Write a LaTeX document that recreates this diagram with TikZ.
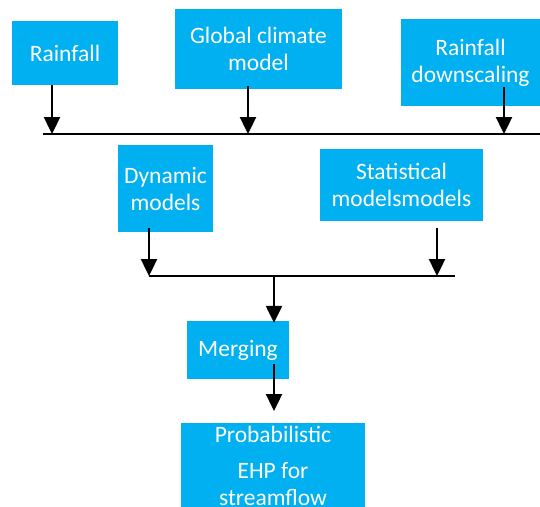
\documentclass[tikz,border=0pt]{standalone}
\usepackage{fontspec}
\setmainfont{Carlito}
\usetikzlibrary{arrows.meta}
\definecolor{skyblue}{HTML}{00B0F0}
\begin{document}
\begin{tikzpicture}[x=1pt, y=-1pt,
    box/.style={fill=skyblue, text=white, inner sep=0pt, align=center,
                font=\fontsize{23.5}{27}\selectfont},
    arr/.style={line width=2.4pt, -{Triangle[width=16pt,length=17pt]}},
    bus/.style={line width=1.8pt}]
  \clip (0,0) rectangle (540,506);

  % first row
  \node[box, minimum width=106, minimum height=64] (rain) at (65,53) {Rainfall};
  \node[box, minimum width=167, minimum height=80] (gcm) at (258.5,49) {Global climate\\model};
  \node[box, minimum width=139, minimum height=87] (down) at (470.5,62.5) {Rainfall\\downscaling};

  % second row
  \node[box, minimum width=95, minimum height=87] (dyn) at (165.5,188.5) {Dynamic\\models};
  \node[box, minimum width=163, minimum height=72] (stat) at (401.5,185) {Statistical\\modelsmodels};

  \node[box, minimum width=102, minimum height=58] (merge) at (238,350) {Merging};
  \node[box, minimum width=184, anchor=north, inner ysep=3pt] (prob) at (273,423)
    {Probabilistic\\[9pt]EHP for\\streamflow\rule[-20pt]{0pt}{20pt}};

  % bus lines
  \coordinate (b1) at (52,134);
  \coordinate (b2) at (248,134);
  \coordinate (b3) at (504,134);
  \coordinate (c1) at (149,276);
  \coordinate (c2) at (437,276);
  \coordinate (c3) at (274,276);
  \draw[bus] (43,134) -- (540,134);
  \draw[bus] (c1) -- (455,276);

  \draw[arr] (b1 |- rain.south) -- (b1);
  \draw[arr] ([yshift=3]b2 |- gcm.south) -- (b2);
  \draw[arr] ([yshift=19]b3 |- down.south) -- (b3);
  \draw[arr] ([yshift=4]c1 |- dyn.south) -- (c1);
  \draw[arr] ([yshift=-7]c2 |- stat.south) -- (c2);
  \draw[arr] (c3) -- ([yshift=-2]c3 |- merge.north);
  \draw[arr] ([yshift=15]c3 |- merge.south) -- ([yshift=12]c3 |- prob.north);
\end{tikzpicture}
\end{document}
